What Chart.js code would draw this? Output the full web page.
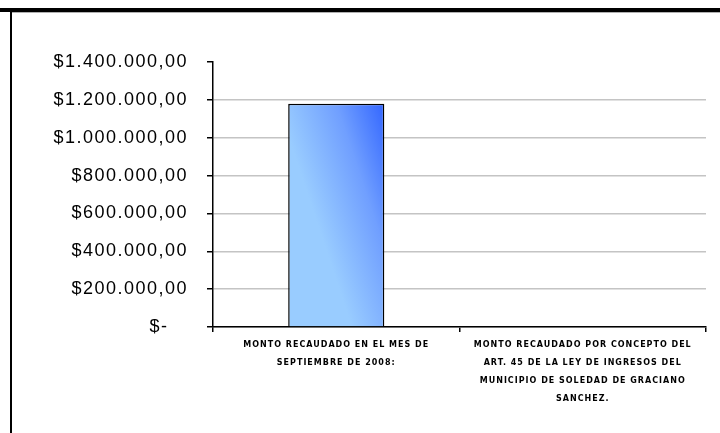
<!DOCTYPE html>
<html>
<head>
<meta charset="utf-8">
<script src="https://cdn.jsdelivr.net/npm/chart.js@4"></script>
<style>
  html, body { margin: 0; padding: 0; background: #fff; }
  #wrap { position: relative; width: 720px; height: 433px; overflow: hidden; }
  #c { position: absolute; left: 0; top: 0; }
  .frameTop { position: absolute; left: 0; top: 8px; width: 720px; height: 4px; background: #000; }
  .frameTopShadow { position: absolute; left: 12px; top: 12px; width: 708px; height: 1px; background: #b0b0b0; }
  .frameLeft { position: absolute; left: 10px; top: 8px; width: 2px; height: 425px; background: #000; }
</style>
</head>
<body>
<div id="wrap">
  <canvas id="c" width="720" height="433"></canvas>
  <div class="frameTop"></div>
  <div class="frameTopShadow"></div>
  <div class="frameLeft"></div>
</div>
<script>
// ---- data ----
const categories = [
  ["MONTO RECAUDADO EN EL MES DE", "SEPTIEMBRE DE 2008:"],
  ["MONTO RECAUDADO POR CONCEPTO DEL", "ART. 45 DE LA LEY DE INGRESOS DEL", "MUNICIPIO DE SOLEDAD DE GRACIANO", "SANCHEZ."]
];
const montos = [1180000, null];
const yMin = 0;
const yMax = 1400000;
const yStep = 200000;

function formatPesos(v) {
  if (v === 0) return "$-   ";
  const parts = v.toFixed(2).split(".");
  const ent = parts[0].replace(/\B(?=(\d{3})+(?!\d))/g, ".");
  return "$" + ent + "," + parts[1];
}

const spacingPlugin = {
  id: "spacing",
  beforeDraw(chart) {
    const conf = { y: "1.5px", x: "1px" };
    for (const id of Object.keys(conf)) {
      const s = chart.scales[id];
      if (s && !s._spacingWrapped) {
        const orig = s.drawLabels.bind(s);
        s.drawLabels = function (area) {
          const c = chart.ctx;
          c.save();
          c.letterSpacing = conf[id];
          orig(area);
          c.restore();
        };
        s._spacingWrapped = true;
      }
    }
  }
};

function barGradient(ctx) {
  const chart = ctx.chart;
  if (!chart.chartArea || ctx.type !== "data") return "#7fa8ff";
  const xs = chart.scales.x, ys = chart.scales.y;
  const v = ctx.raw;
  if (v === null || v === undefined) return "#7fa8ff";
  const center = xs.getPixelForValue(ctx.dataIndex);
  const bw = (xs.width / categories.length) * 0.39;
  const right = center + bw / 2;
  const top = ys.getPixelForValue(v);
  const g = chart.ctx.createLinearGradient(right, top, right - bw, top + bw / 3);
  g.addColorStop(0, "#3366ff");
  g.addColorStop(0.45, "#709fff");
  g.addColorStop(1, "#99ccff");
  return g;
}

new Chart(document.getElementById("c"), {
  type: "bar",
  data: {
    labels: categories,
    datasets: [{
      data: montos,
      backgroundColor: barGradient,
      borderColor: "#000",
      borderWidth: 1.5,
      barPercentage: 0.39,
      categoryPercentage: 1.0
    }]
  },
  options: {
    responsive: false,
    animation: false,
    devicePixelRatio: 1,
    layout: { padding: { top: 62, right: 14, left: 0, bottom: 0 } },
    plugins: { legend: { display: false }, tooltip: { enabled: false } },
    scales: {
      x: {
        offset: true,
        grid: { display: true, drawOnChartArea: false, drawTicks: true, tickLength: 5, color: "#000", lineWidth: 1.5, offset: true },
        border: { display: true, color: "#000", width: 1.5 },
        ticks: {
          color: "#000",
          font: { family: "DejaVu Sans", size: 8, weight: "bold", lineHeight: 2.25 },
          padding: 4,
          maxRotation: 0,
          autoSkip: false
        },
        afterFit(scale) { scale.height = 106; }
      },
      y: {
        min: yMin,
        max: yMax,
        grid: {
          drawOnChartArea: true,
          drawTicks: true,
          tickLength: 6,
          lineWidth: 1.5,
          color: (c) => (c.tick && c.tick.value === yMax) ? "rgba(0,0,0,0)" : "#c4c4c4",
          tickColor: "#000"
        },
        border: { display: true, color: "#000", width: 1.5 },
        ticks: {
          stepSize: yStep,
          color: "#000",
          padding: 19,
          font: { family: "Liberation Sans", size: 18 },
          callback: (v) => formatPesos(v)
        },
        afterFit(scale) { scale.width = 213; }
      }
    }
  },
  plugins: [spacingPlugin]
});
</script>
</body>
</html>
